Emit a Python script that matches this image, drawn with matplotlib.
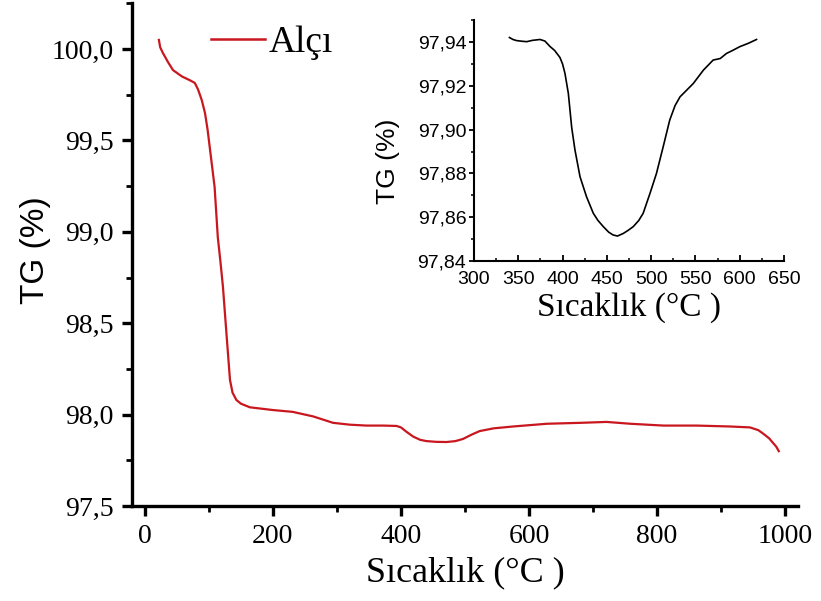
import matplotlib
matplotlib.use("Agg")
import matplotlib.pyplot as plt
from matplotlib.ticker import MultipleLocator, FixedLocator, FixedFormatter

# ---- main TG curve (Alçı) ----
main_temp = [22, 24, 28, 36, 44, 58, 70, 78, 83, 89, 94, 98, 101.5, 105, 109, 114, 118, 122,
             128, 133, 137, 143, 150, 164, 200, 231, 263, 294, 320, 346, 372, 393, 400, 409,
             419, 430, 440, 455, 471, 485, 497, 510, 523, 545, 575, 628, 680, 721, 758, 810,
             862, 914, 945, 958, 966, 975, 981, 986, 990]
main_tg = [100.05, 100.01, 99.98, 99.93, 99.885, 99.85, 99.83, 99.815, 99.78, 99.72, 99.65,
           99.56, 99.46, 99.36, 99.245, 98.97, 98.84, 98.70, 98.42, 98.19, 98.12, 98.08, 98.06,
           98.04, 98.025, 98.015, 97.99, 97.955, 97.945, 97.94, 97.94, 97.938, 97.93, 97.905,
           97.88, 97.862, 97.855, 97.851, 97.85, 97.855, 97.867, 97.89, 97.91, 97.925, 97.935,
           97.95, 97.955, 97.96, 97.95, 97.94, 97.94, 97.935, 97.93, 97.915, 97.895, 97.87,
           97.845, 97.825, 97.80]

# ---- inset curve ----
ins_temp = [340, 344, 348, 354, 359.5, 366, 374.5, 380, 385.8, 391, 397, 400, 402.7, 406.5,
            410.3, 414, 419.7, 427, 434.7, 440, 446, 452, 457, 462, 468.6, 474, 479.8, 486,
            491, 498.7, 506, 513.6, 521, 527, 532.6, 540, 547.6, 559, 570, 578, 585, 592,
            600, 610, 619]
ins_tg = [97.9421, 97.9412, 97.9407, 97.9404, 97.9402, 97.9408, 97.9412, 97.9405, 97.938,
          97.9362, 97.933, 97.930, 97.9257, 97.9166, 97.901, 97.8907, 97.8785, 97.8694,
          97.8618, 97.8585, 97.8557, 97.8532, 97.8519, 97.8514, 97.8526, 97.854, 97.8557,
          97.8585, 97.8618, 97.8709, 97.880, 97.8922, 97.9044, 97.911, 97.915, 97.918,
          97.9211, 97.9272, 97.9318, 97.9325, 97.9348, 97.9362, 97.9379, 97.9395, 97.9412]

main_xticks = [0, 200, 400, 600, 800, 1000]
main_xlabels = ["0", "200", "400", "600", "800", "1000"]
main_yticks = [97.5, 98.0, 98.5, 99.0, 99.5, 100.0]
main_ylabels = ["97,5", "98,0", "98,5", "99,0", "99,5", "100,0"]
ins_xticks = [300, 350, 400, 450, 500, 550, 600, 650]
ins_xlabels = ["300", "350", "400", "450", "500", "550", "600", "650"]
ins_yticks = [97.84, 97.86, 97.88, 97.90, 97.92, 97.94]
ins_ylabels = ["97,84", "97,86", "97,88", "97,90", "97,92", "97,94"]

SERIF = ["Liberation Serif", "DejaVu Serif"]
SANS = ["Liberation Sans", "DejaVu Sans"]

fig = plt.figure(figsize=(8.21, 6.01), dpi=100)
fig.patch.set_facecolor("white")

W, H = 821, 601
ax = fig.add_axes([132 / W, 1 - 506 / H, (798 - 132) / W, (506 - 3) / H])
ax.plot(main_temp, main_tg, color="#c8171e", lw=1.6, label="Alçı")
ax.set_xlim(-20, 1020)
ax.set_ylim(97.5, 100.252)
for s in ["top", "right"]:
    ax.spines[s].set_visible(False)
for s in ["left", "bottom"]:
    ax.spines[s].set_linewidth(2.4)
ax.xaxis.set_major_locator(FixedLocator(main_xticks))
ax.xaxis.set_major_formatter(FixedFormatter(main_xlabels))
ax.yaxis.set_major_locator(FixedLocator(main_yticks))
ax.yaxis.set_major_formatter(FixedFormatter(main_ylabels))
ax.xaxis.set_minor_locator(MultipleLocator(100))
ax.yaxis.set_minor_locator(MultipleLocator(0.25))
ax.tick_params(which="major", direction="out", length=7, width=2.4, pad=6)
ax.tick_params(which="minor", direction="out", length=4, width=2.0)
for lab in ax.get_xticklabels() + ax.get_yticklabels():
    lab.set_fontfamily(SERIF)
    lab.set_fontsize(20)
ax.set_xlabel("Sıcaklık (°C )", fontfamily=SERIF, fontsize=26, labelpad=5)
ax.set_ylabel("TG (%)", fontfamily=SANS, fontsize=24)
ax.yaxis.set_label_coords((51 - 132) / (798 - 132), 1 - (250 - 3) / (506 - 3))

leg = ax.legend(loc="center left", bbox_to_anchor=(211 / W, 1 - 43 / H),
                bbox_transform=fig.transFigure, frameon=False, borderpad=0,
                borderaxespad=0, handlelength=1.45, handletextpad=0.08,
                prop={"family": SERIF, "size": 27})
for line in leg.get_lines():
    line.set_linewidth(1.8)

# ---- inset ----
ai = fig.add_axes([474 / W, 1 - 261 / H, (784 - 474) / W, (261 - 20) / H])
ai.plot(ins_temp, ins_tg, color="black", lw=1.2)
ai.set_xlim(300, 650)
ai.set_ylim(97.84, 97.9501)
for s in ["top", "right"]:
    ai.spines[s].set_visible(False)
for s in ["left", "bottom"]:
    ai.spines[s].set_linewidth(1.5)
ai.xaxis.set_major_locator(FixedLocator(ins_xticks))
ai.xaxis.set_major_formatter(FixedFormatter(ins_xlabels))
ai.yaxis.set_major_locator(FixedLocator(ins_yticks))
ai.yaxis.set_major_formatter(FixedFormatter(ins_ylabels))
ai.xaxis.set_minor_locator(MultipleLocator(25))
ai.yaxis.set_minor_locator(MultipleLocator(0.01))
ai.tick_params(axis="x", which="major", direction="in", length=4, width=1.3, pad=7)
ai.tick_params(axis="x", which="minor", direction="in", length=2.5, width=1.1)
ai.tick_params(axis="y", which="major", direction="out", length=3.5, width=1.3, pad=2)
ai.tick_params(axis="y", which="minor", direction="out", length=2.5, width=1.1)
for lab in ai.get_xticklabels() + ai.get_yticklabels():
    lab.set_fontfamily(SANS)
    lab.set_fontsize(14)
ai.set_xlabel("Sıcaklık (°C )", fontfamily=SERIF, fontsize=24, labelpad=3)
ai.set_ylabel("TG (%)", fontfamily=SANS, fontsize=19)
ai.yaxis.set_label_coords((400 - 474) / 310, 1 - (161 - 20) / 241)

fig.savefig("out.png", dpi=100, facecolor="white")
